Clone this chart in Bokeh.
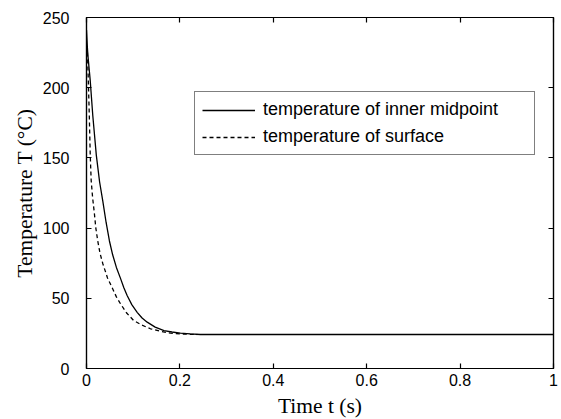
from bokeh.plotting import figure
from bokeh.models import (Range1d, FixedTicker, LinearAxis, Legend, LegendItem)
from bokeh.embed import file_html
from bokeh.resources import INLINE

# ---- data ----
t_inner = [0.0, 0.002, 0.003, 0.008, 0.0135, 0.021, 0.028, 0.035, 0.042, 0.049, 0.056,
           0.064, 0.073, 0.080, 0.087, 0.097, 0.1085, 0.119, 0.130, 0.147, 0.166,
           0.183, 0.201, 0.222, 0.244, 1.0]
T_inner = [241, 228, 223, 205, 180, 152, 133, 119, 104, 91, 81,
           72, 64, 57.5, 52, 45.5, 40, 36, 33, 29.5, 27,
           26, 25.2, 24.6, 24.2, 24.2]

t_surface = [0.002, 0.004, 0.006, 0.008, 0.010, 0.013, 0.017, 0.020, 0.024, 0.029,
             0.035, 0.045, 0.056, 0.064, 0.073, 0.086, 0.101, 0.118, 0.137, 0.158,
             0.180, 0.208, 0.237]
T_surface = [225, 204, 180, 152, 134, 122, 110, 100, 91, 82,
             74.6, 64.5, 56.8, 51, 46, 39.5, 34.2, 31, 28.3, 26.5,
             25.2, 24.5, 24.2]

x_ticks = [0, 0.2, 0.4, 0.6, 0.8, 1]
x_tick_labels = ["0", "0.2", "0.4", "0.6", "0.8", "1"]
y_ticks = [0, 50, 100, 150, 200, 250]
y_tick_labels = ["0", "50", "100", "150", "200", "250"]

series_names = ["temperature of inner midpoint", "temperature of surface"]
x_title = "Time t (s)"
y_title = "Temperature T (°C)"

SANS = "Liberation Sans"
SERIF = "Liberation Serif"

p = figure(frame_width=467, frame_height=351,
           min_border_left=86, min_border_right=6, min_border_top=17, min_border_bottom=51,
           x_range=Range1d(0, 1), y_range=Range1d(0, 250),
           output_backend="svg", toolbar_location=None,
           x_axis_location=None, y_axis_location=None)
p.background_fill_color = "white"
p.border_fill_color = "white"
p.xgrid.grid_line_color = None
p.ygrid.grid_line_color = None
p.outline_line_color = "black"
p.outline_line_width = 1.2


def make_axis(ticks, labels, show_labels, standoff, title=None, title_standoff=0):
    ax = LinearAxis(ticker=FixedTicker(ticks=ticks))
    ax.major_tick_in = 5
    ax.major_tick_out = 0
    ax.minor_tick_line_color = None
    ax.axis_line_color = "black"
    ax.axis_line_width = 1.2
    ax.major_tick_line_color = "black"
    ax.major_tick_line_width = 1.2
    if show_labels:
        ax.major_label_overrides = {tk: lb for tk, lb in zip(ticks, labels)}
        ax.major_label_text_font = SANS
        ax.major_label_text_font_size = "16px"
        ax.major_label_text_color = "black"
        ax.major_label_standoff = standoff
    else:
        ax.major_label_overrides = {tk: "" for tk in ticks}
        ax.major_label_text_font_size = "1px"
        ax.major_label_standoff = 0
    if title:
        ax.axis_label = title
        ax.axis_label_text_font = SERIF
        ax.axis_label_text_font_size = "21.5px"
        ax.axis_label_text_font_style = "normal"
        ax.axis_label_text_color = "black"
        ax.axis_label_standoff = title_standoff
    return ax


p.add_layout(make_axis(x_ticks, x_tick_labels, True, 5, x_title, 5), "below")
p.add_layout(make_axis(y_ticks, y_tick_labels, True, 17, y_title, 3), "left")
p.add_layout(make_axis(x_ticks, x_tick_labels, False, 0), "above")
p.add_layout(make_axis(y_ticks, y_tick_labels, False, 0), "right")

r_inner = p.line(t_inner, T_inner, line_color="black", line_width=1.3)
r_surf = p.line(t_surface, T_surface, line_color="black", line_width=1.3, line_dash="4 3")

legend = Legend(items=[LegendItem(label=series_names[0], renderers=[r_inner]),
                       LegendItem(label=series_names[1], renderers=[r_surf])],
                location=(108, 213))
legend.label_text_font = SANS
legend.label_text_font_size = "18px"
legend.label_text_color = "black"
legend.glyph_width = 53
legend.glyph_height = 20
legend.label_height = 20
legend.label_width = 264
legend.label_standoff = 8
legend.spacing = 6
legend.padding = 7
legend.margin = 0
legend.border_line_color = "black"
legend.border_line_width = 1.2
legend.background_fill_color = "white"
legend.background_fill_alpha = 1
p.add_layout(legend, "center")

open("out.html", "w").write(file_html(p, INLINE))
